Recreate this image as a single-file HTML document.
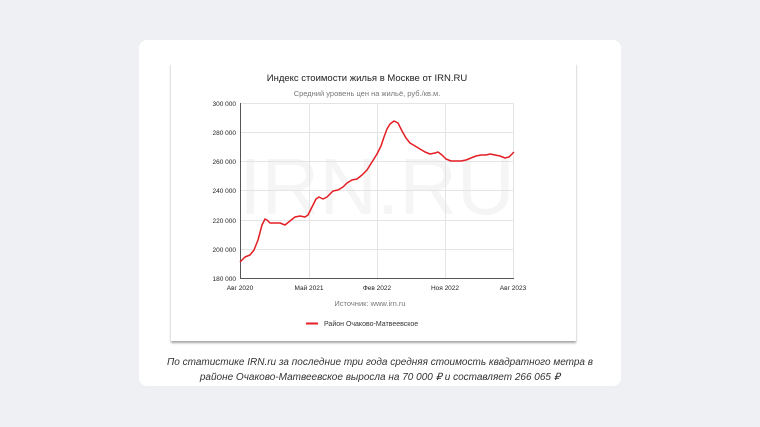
<!DOCTYPE html>
<html><head><meta charset="utf-8"><style>
body{margin:0;width:760px;height:427px;background:#eef0f3;font-family:"Liberation Sans",sans-serif;position:relative;overflow:hidden}
.card{position:absolute;left:139px;top:40px;width:482px;height:346px;background:#fff;border-radius:8px}
.chart{position:absolute;left:171px;top:63px;width:405px;height:278px;background:#fff;box-shadow:0 2px 2px rgba(0,0,0,.35)}
.cap{position:absolute;left:139px;top:355px;width:482px;text-align:center;font-style:italic;font-size:10px;line-height:15px;color:#333}
</style></head><body>
<div class="card"></div>
<div class="chart"></div>
<svg style="position:absolute;left:0;top:0" width="760" height="427" font-family="Liberation Sans, sans-serif">
<text x="377" y="214" font-size="80" fill="#f5f5f5" text-anchor="middle">IRN.RU</text>
<text x="367" y="81" font-size="9.5" fill="#222" text-anchor="middle">Индекс стоимости жилья в Москве от IRN.RU</text>
<text x="367" y="96" font-size="7.5" fill="#777" text-anchor="middle">Средний уровень цен на жильё, руб./кв.м.</text>
<g stroke="#e4e4e4" stroke-width="1">
<line x1="240" y1="103.5" x2="514" y2="103.5"/><line x1="240" y1="132.5" x2="514" y2="132.5"/><line x1="240" y1="161.5" x2="514" y2="161.5"/><line x1="240" y1="190.5" x2="514" y2="190.5"/><line x1="240" y1="220.5" x2="514" y2="220.5"/><line x1="240" y1="249.5" x2="514" y2="249.5"/>
<line x1="309.5" y1="103" x2="309.5" y2="278"/><line x1="377.5" y1="103" x2="377.5" y2="278"/><line x1="445.5" y1="103" x2="445.5" y2="278"/><line x1="513.5" y1="103" x2="513.5" y2="278"/>
</g>
<line x1="240.5" y1="103" x2="240.5" y2="278" stroke="#555"/>
<line x1="240" y1="278.5" x2="514" y2="278.5" stroke="#555"/>
<g font-size="6.5" fill="#222" text-anchor="end">
<text x="236" y="106">300 000</text><text x="236" y="135">280 000</text><text x="236" y="164">260 000</text><text x="236" y="193">240 000</text><text x="236" y="223">220 000</text><text x="236" y="252">200 000</text><text x="236" y="281">180 000</text>
</g>
<g font-size="6.5" fill="#222" text-anchor="middle">
<text x="240" y="290">Авг 2020</text><text x="309" y="290">Май 2021</text><text x="377" y="290">Фев 2022</text><text x="445" y="290">Ноя 2022</text><text x="513" y="290">Авг 2023</text>
</g>
<polyline fill="none" stroke="#e31e24" stroke-width="1.5" stroke-linejoin="round" points="240,262 245,257 250,255 254,250 258,240 262,225 265,219 267,220 270,223 275,223 280,223 285,225 290,221 295,217 300,216 305,217 308,215 312,207 316,199 319,197 323,199 327,197 333,191 338,190 343,187 347,183 352,180 357,179 362,175 367,170 372,162 377,154 381,146 384,137 387,129 390,124 394,121 398,123 402,131 406,138 410,143 415,146 420,149 425,152 430,154 435,153 438,152 442,155 446,159 451,161 456,161 461,161 466,160 471,158 476,156 481,155 486,155 490,154 495,155 500,156 505,158 509,157 514,152"/>
<text x="370" y="306" font-size="7.5" fill="#777" text-anchor="middle">Источник: www.irn.ru</text>
<line x1="306" y1="323.5" x2="318" y2="323.5" stroke="#e31e24" stroke-width="2"/>
<text x="324" y="326" font-size="7" fill="#333">Район Очаково-Матвеевское</text>
</svg>
<div class="cap">По статистике IRN.ru за последние три года средняя стоимость квадратного метра в<br>районе Очаково-Матвеевское выросла на 70 000 ₽ и составляет 266 065 ₽</div>
</body></html>
